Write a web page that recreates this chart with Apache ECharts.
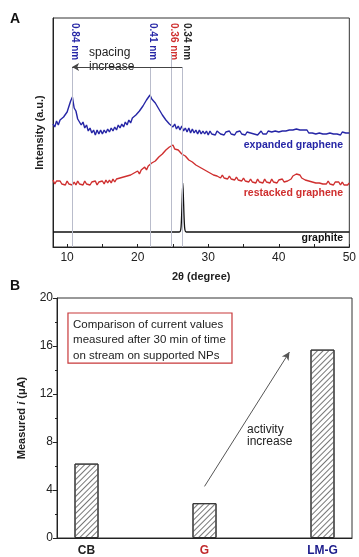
<!DOCTYPE html>
<html><head><meta charset="utf-8">
<script src="https://cdn.jsdelivr.net/npm/echarts@6/dist/echarts.min.js"></script>
<style>html,body{margin:0;padding:0;background:#fff}#c{width:359px;height:557px}</style>
</head><body><div id="c"></div>
<script>
// ---------- Panel A data (XRD) ----------
const twoTheta = [
  8,8.25,8.5,8.75, 9,9.25,9.5,9.75, 10,10.25,10.5,10.75, 11,11.25,11.5,11.75,
  12,12.25,12.5,12.75, 13,13.25,13.5,13.75, 14,14.25,14.5,14.75, 15,15.25,15.5,15.75,
  16,16.25,16.5,16.75, 17,17.25,17.5,17.75, 18,18.25,18.5,18.75, 19,19.25,19.5,19.75,
  20,20.25,20.5,20.75, 21,21.25,21.5,21.75, 22,22.25,22.5,22.75, 23,23.25,23.5,23.75,
  24,24.25,24.5,24.75, 25,25.25,25.5,25.75, 26,26.25,26.5,26.75, 27,27.25,27.5,27.75,
  28,28.25,28.5,28.75, 29,29.25,29.5,29.75, 30,30.25,30.5,30.75, 31,31.25,31.5,31.75,
  32,32.25,32.5,32.75, 33,33.25,33.5,33.75, 34,34.25,34.5,34.75, 35,35.25,35.5,35.75,
  36,36.25,36.5,36.75, 37,37.25,37.5,37.75, 38,38.25,38.5,38.75, 39,39.25,39.5,39.75,
  40,40.25,40.5,40.75, 41,41.25,41.5,41.75, 42,42.25,42.5,42.75, 43,43.25,43.5,43.75,
  44,44.25,44.5,44.75, 45,45.25,45.5,45.75, 46,46.25,46.5,46.75, 47,47.25,47.5,47.75,
  48,48.25,48.5,48.75, 49,49.25,49.5,49.75, 50
];
const expanded = [
  123,120,126,122, 127,125,130,128, 135,137,146,150, 139,136,128,129,
  122,125,119,122, 116,119,114,117, 112,117,113,117, 113,117,114,118,
  115,119,116,120, 117,122,119,123, 120,125,122,127, 124,129,127,132,
  131,136,134,141, 140,147,146,152, 148,150,144,145, 138,139,132,133,
  127,129,123,125, 120,123,118,121, 117,121,116,119, 115,119,114,118,
  114,117,113,117, 113,116,113,116, 112,116,113,115, 112,116,114,113,
  115,112,115,113, 116,113,114,112, 115,113,116,113, 114,112,115,113,
  114,116,113,115, 112,114,116,113, 115,113,116,114, 115,113,116,114,
  115,113,116,114, 116,114,117,115, 117,115,118,116, 117,115,117,116,
  117,114,116,114, 116,113,115,114, 116,113,115,113, 115,114,116,113,
  115,113,114,112, 115,113,114,112, 114
];
const restacked = [
  67,63,66,64, 66,63,65,62, 66,63,65,62, 65,62,66,63,
  65,62,66,63, 65,62,65,63, 66,62,65,63, 66,63,67,64,
  67,64,68,65, 68,66,69,67, 70,68,71,69, 72,70,74,72,
  76,73,77,75, 80,77,81,80, 84,82,86,85, 90,88,93,92,
  97,95,100,99, 102,98,100,97, 97,93,94,91, 91,87,88,85,
  85,82,83,80, 81,78,79,76, 77,74,75,72, 74,71,72,69,
  72,69,71,68, 71,68,70,67, 70,67,69,66, 69,66,68,65,
  68,65,67,64, 68,65,67,64, 68,65,67,64, 68,65,67,64,
  67,65,68,65, 67,66,68,68, 71,69,73,71, 72,69,70,67,
  69,66,67,65, 67,64,66,64, 66,63,65,63, 66,63,65,62,
  65,63,65,62, 65,62,64,62, 64
];
const graphiteAngle = [8, 25.9, 26.1, 26.2, 26.3, 26.4, 26.5, 26.6, 26.7, 26.9, 50];
const graphiteI     = [15, 15, 17, 26, 46, 64, 46, 26, 17, 15, 15];
const dSpacingAngle = [10.7, 21.8, 24.8, 26.3];
const dSpacingLabel = ['0.84 nm', '0.41 nm', '0.36 nm', '0.34 nm'];
const xTicksA = [10, 20, 30, 40, 50];
const xMinorA = [10, 15, 20, 25, 30, 35, 40, 45, 50];

// ---------- Panel B data (currents) ----------
const catalysts = ['CB', 'G', 'LM-G'];
const currents = [6.2, 2.9, 15.7];
const yTicksB = [0, 4, 8, 12, 16, 20];

const BLUE = '#2626a6', RED = '#cf2f2f', DARK = '#222';
const FONT = '"Liberation Sans", Arial, sans-serif';
const catColors = [DARK, '#c0282a', '#1c1c8c'];

const chart = echarts.init(document.getElementById('c'), null, {renderer: 'canvas'});

const zip = (xs, ys) => ys.map((v, i) => [xs[i], v]);

const option = {
  animation: false,
  textStyle: {fontFamily: FONT},
  grid: [
    {left: 53, right: 7, top: 18, height: 229, show: true, borderColor: '#333', borderWidth: 1},
    {left: 57, right: 7, top: 298, height: 240, show: true, borderColor: '#333', borderWidth: 1}
  ],
  xAxis: [
    {
      gridIndex: 0, type: 'value', min: 8, max: 50,
      name: '2θ (degree)', nameLocation: 'middle', nameGap: 24,
      nameTextStyle: {fontFamily: FONT, fontWeight: 'bold', fontSize: 11, color: DARK},
      axisLine: {lineStyle: {color: DARK}},
      axisTick: {inside: true, length: 3, customValues: xMinorA, lineStyle: {color: DARK}},
      axisLabel: {customValues: xTicksA, fontSize: 12, color: DARK, margin: 5, fontFamily: FONT},
      splitLine: {show: false}
    },
    {
      gridIndex: 1, type: 'value', min: 0.75, max: 3.25,
      axisLine: {lineStyle: {color: DARK}},
      axisTick: {show: false},
      axisLabel: {
        customValues: [1, 2, 3], margin: 7, fontSize: 12, fontWeight: 'bold', fontFamily: FONT,
        formatter: v => '{c' + (Math.round(v) - 1) + '|' + catalysts[Math.round(v) - 1] + '}',
        rich: {
          c0: {color: catColors[0], fontWeight: 'bold', fontSize: 12, fontFamily: FONT},
          c1: {color: catColors[1], fontWeight: 'bold', fontSize: 12, fontFamily: FONT},
          c2: {color: catColors[2], fontWeight: 'bold', fontSize: 12, fontFamily: FONT}
        }
      },
      splitLine: {show: false}
    }
  ],
  yAxis: [
    {
      gridIndex: 0, type: 'value', min: 0, max: 229,
      name: 'Intensity (a.u.)', nameLocation: 'middle', nameGap: 8, nameRotate: 90,
      nameTextStyle: {fontFamily: FONT, fontWeight: 'bold', fontSize: 11, color: DARK},
      axisLine: {show: true, lineStyle: {color: DARK}},
      axisTick: {show: false}, axisLabel: {show: false}, splitLine: {show: false}
    },
    {
      gridIndex: 1, type: 'value', min: 0, max: 20, interval: 4,
      name: '{b|Measured }{i|i}{b| (μA)}', nameLocation: 'middle', nameGap: 30, nameRotate: 90,
      nameTextStyle: {
        rich: {
          b: {fontFamily: FONT, fontWeight: 'bold', fontSize: 11, color: DARK},
          i: {fontFamily: FONT, fontWeight: 'bold', fontStyle: 'italic', fontSize: 11, color: DARK}
        }
      },
      axisLine: {show: true, lineStyle: {color: DARK}},
      axisTick: {show: true, length: 4, lineStyle: {color: DARK}},
      minorTick: {show: true, splitNumber: 2, length: 2, lineStyle: {color: DARK}},
      axisLabel: {fontSize: 12, color: DARK, margin: 4, fontFamily: FONT},
      splitLine: {show: false}
    }
  ],
  series: [
    {
      name: 'expanded graphene', type: 'line', xAxisIndex: 0, yAxisIndex: 0,
      data: zip(twoTheta, expanded), showSymbol: false, symbol: 'none',
      lineStyle: {color: BLUE, width: 1.4}, z: 3,
      markLine: {
        silent: true, symbol: ['none', 'none'],
        lineStyle: {color: '#b9bccb', width: 1, type: 'solid'}, label: {show: false},
        data: dSpacingAngle.map((a, i) => [{coord: [a, 0]}, {coord: [a, i === 2 ? 193 : 180]}])
      }
    },
    {
      name: 'restacked graphene', type: 'line', xAxisIndex: 0, yAxisIndex: 0,
      data: zip(twoTheta, restacked), showSymbol: false, symbol: 'none',
      lineStyle: {color: RED, width: 1.4}, z: 3,
      markLine: {
        silent: true, symbol: ['none', 'arrow'], symbolSize: [6, 7],
        lineStyle: {color: '#444', width: 1, type: 'solid'}, label: {show: false},
        data: [[{coord: [dSpacingAngle[3], 180]}, {coord: [dSpacingAngle[0], 180]}]]
      }
    },
    {
      name: 'graphite', type: 'line', xAxisIndex: 0, yAxisIndex: 0,
      data: zip(graphiteAngle, graphiteI), showSymbol: false, symbol: 'none', smooth: 0.3,
      lineStyle: {color: '#111', width: 1.3}, z: 3
    },
    {
      name: 'current', type: 'bar', xAxisIndex: 1, yAxisIndex: 1,
      data: currents.map((v, i) => [i + 1, v]), barWidth: 24,
      itemStyle: {
        color: '#fff', borderColor: '#333', borderWidth: 1,
        decal: {symbol: 'rect', symbolSize: 1, dashArrayX: [1, 0], dashArrayY: [1, 3], rotation: -Math.PI / 4, color: '#777'}
      },
      markLine: {
        silent: true, symbol: ['none', 'arrow'], symbolSize: [6, 8],
        lineStyle: {color: '#555', width: 1, type: 'solid'}, label: {show: false},
        data: [[{coord: [2.0, 4.3]}, {coord: [2.72, 15.5]}]]
      }
    }
  ]
};
chart.setOption(option);

// annotations placed through the axes' own scales
const pA = (x, y) => chart.convertToPixel({gridIndex: 0}, [x, y]);
const pB = (x, y) => chart.convertToPixel({gridIndex: 1}, [x, y]);
const labelColors = [BLUE, BLUE, RED, DARK];
const labelOffset = [3, 2, 2, 5];
const g = [];
g.push({type: 'text', left: 10, top: 12, style: {text: 'A', font: 'bold 14px ' + FONT, fill: '#111'}});
g.push({type: 'text', left: 10, top: 279, style: {text: 'B', font: 'bold 14px ' + FONT, fill: '#111'}});
dSpacingAngle.forEach((a, i) => {
  const p = pA(a, 229);
  g.push({type: 'text', x: p[0] + labelOffset[i], y: p[1] + 5, rotation: -Math.PI / 2,
    style: {text: dSpacingLabel[i], font: 'bold 10px ' + FONT, fill: labelColors[i], align: 'left', verticalAlign: 'middle'}});
});
let p = pA(13.1, 187);
g.push({type: 'text', x: p[0], y: p[1], style: {text: 'spacing\nincrease', font: '12px ' + FONT, lineHeight: 14, fill: '#222', align: 'left', verticalAlign: 'middle'}});
p = pA(49.1, 102);
g.push({type: 'text', x: p[0], y: p[1], style: {text: 'expanded graphene', font: 'bold 10.5px ' + FONT, fill: BLUE, align: 'right', verticalAlign: 'middle'}});
p = pA(49.1, 54);
g.push({type: 'text', x: p[0], y: p[1], style: {text: 'restacked graphene', font: 'bold 10.5px ' + FONT, fill: RED, align: 'right', verticalAlign: 'middle'}});
p = pA(49.1, 9);
g.push({type: 'text', x: p[0], y: p[1], style: {text: 'graphite', font: 'bold 10.5px ' + FONT, fill: '#111', align: 'right', verticalAlign: 'middle'}});
// panel B box
const b1 = pB(0.843, 18.75), b2 = pB(2.233, 14.58);
g.push({type: 'rect', shape: {x: b1[0], y: b1[1], width: b2[0] - b1[0], height: b2[1] - b1[1]},
  style: {fill: '#fff', stroke: '#c8383a', lineWidth: 1.2}, z: 10});
p = pB(0.886, 16.5);
g.push({type: 'text', x: p[0], y: p[1], z: 11, style: {text: 'Comparison of current values\nmeasured after 30 min of time\non stream on supported NPs',
  font: '11.5px ' + FONT, lineHeight: 15.5, fill: '#222', align: 'left', verticalAlign: 'middle'}});
p = pB(2.36, 8.5);
g.push({type: 'text', x: p[0], y: p[1], style: {text: 'activity\nincrease', font: '12px ' + FONT, lineHeight: 12, fill: '#222', align: 'left', verticalAlign: 'middle'}});
chart.setOption({graphic: g});
</script>
</body></html>
